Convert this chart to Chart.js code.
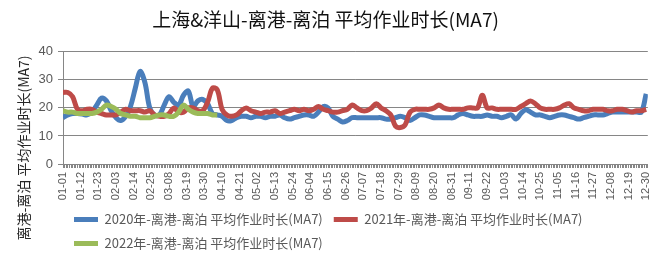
<!DOCTYPE html>
<html><head><meta charset="utf-8">
<script src="https://cdn.jsdelivr.net/npm/chart.js@4"></script>
<style>html,body{margin:0;padding:0;background:#fff}</style>
</head><body>
<canvas id="c" width="665" height="262"></canvas>
<script>
const chartTitle = '上海&洋山-离港-离泊 平均作业时长(MA7)';
const yTitle = '离港-离泊 平均作业时长(MA7)';
const seriesNames = ['2020年-离港-离泊 平均作业时长(MA7)', '2021年-离港-离泊 平均作业时长(MA7)', '2022年-离港-离泊 平均作业时长(MA7)'];
const tickLabels = ['01-01','01-12','01-23','02-03','02-14','02-25','03-08','03-19','03-30','04-10','04-21','05-02','05-13','05-24','06-04','06-15','06-26','07-07','07-18','07-29','08-09','08-20','08-31','09-11','09-22','10-03','10-14','10-25','11-05','11-16','11-27','12-08','12-19','12-30'];
const labelEvery = 11;   // one tick label every 11 days
const sampleStep = 3;    // values read every 3 days
const values2020 = [16.5,17.5,18,18,17.8,17.5,18.5,21,23.5,22.5,
 19,16.5,15.5,17,20.5,27,33,29,20,17.5,
 17.5,21,24,22,21,24.5,26,20.5,22.5,23,
 21.5,18,17.5,17,15.5,15.5,16.5,17,17,16.5,
 17,17,16.5,17,17,17.5,16.5,16,16.5,17,
 17.5,17.5,17,18.5,20.5,20,17,16,15,15.5,
 16.5,16.5,16.5,16.5,16.5,16.5,16.5,16,16,16.5,
 17,16.5,15.5,16.5,17.5,17.5,17,16.5,16.5,16.5,
 16.5,16.5,17.5,18,17.5,17,17,17,17.5,17,
 17,16.5,17,17.5,16,18,19.3,18.5,17.5,17.5,
 17,16.5,17,17.5,17.5,17,16.5,16,16.5,17,
 17.5,17.5,17.5,18,18.5,18.5,18.5,18.5,18.5,18.5,
 18.5,25];
const values2021 = [25.5,25.5,24,19.5,19,19.5,19.5,18.5,18,17.5,
 17.5,17.5,18.5,19.5,19,19,19,18.5,19,17.5,
 17,17,18,20,18.5,18.5,20,20,19,19,
 22,27,26.5,19.5,17.5,17,17.5,19,20,19,
 18.5,18,18.5,18.5,19,18,18.5,19,19.5,19,
 19.5,19,19.5,20.5,19.5,19,18.5,18.5,19,19.5,
 21,20,19,19,20,21.5,20,19,17.5,13.5,
 13,14,18.5,19.5,19.5,19.5,19.5,20,21,20,
 19.5,19.5,19.5,19.5,20,20,20,24.5,20,20,
 19.5,19.5,19.5,19.5,19.5,20.5,21.5,22.5,21.5,20,
 19.5,19.5,19.5,20,21,21.5,20,19.5,19,19,
 19.5,19.5,19.5,19,19,19.5,19.5,19,18.5,19,
 19,19.5];
const values2022 = [19,18.5,18.5,18,18,18,18,18.5,19.5,21,
 20.5,19.5,18,17.5,17,17,16.5,16.5,16.5,17,
 17.5,17.5,17,17,18.5,21,19.5,18.5,18,18,
 18,17.5,17.5];
const yTicks = [0, 10, 20, 30, 40];

const colors = ['#4A7EBB', '#BE4B48', '#9BBB59'];
const toPoints = arr => arr.map((v, i) => ({x: i * sampleStep, y: v}));

const yTitlePlugin = {
  id: 'yTitle',
  afterDraw(chart) {
    const ctx = chart.ctx;
    ctx.save();
    ctx.translate(24, 148);
    ctx.rotate(-Math.PI / 2);
    ctx.font = '14px "Noto Sans CJK SC", sans-serif';
    ctx.fillStyle = '#262626';
    ctx.textAlign = 'center';
    ctx.textBaseline = 'middle';
    ctx.fillText(yTitle, 0, 0);
    ctx.restore();
  }
};

const ds = (name, vals, color) => ({
  label: name, data: toPoints(vals), borderColor: color, backgroundColor: color,
  borderWidth: 5, pointRadius: 0, tension: 0.35, fill: false
});

new Chart(document.getElementById('c'), {
  type: 'line',
  data: {
    datasets: [
      ds(seriesNames[2], values2022, colors[2]),
      ds(seriesNames[1], values2021, colors[1]),
      ds(seriesNames[0], values2020, colors[0])
    ]
  },
  options: {
    responsive: false,
    animation: false,
    devicePixelRatio: 1,
    layout: {padding: {top: 0, right: 14, bottom: 2, left: 0}},
    font: {family: '"Noto Sans CJK SC", "Liberation Sans", sans-serif'},
    plugins: {
      title: {
        display: true, text: chartTitle, color: '#111111',
        font: {size: 19, weight: 'normal', family: '"Noto Sans CJK SC", sans-serif'},
        padding: {top: 8, bottom: 21}
      },
      legend: {
        position: 'bottom', align: 'start', fullSize: false,
        labels: {
          color: '#595959', boxWidth: 24, boxHeight: 5, padding: 11,
          font: {size: 13, family: '"Noto Sans CJK SC", sans-serif'},
          sort: (a, b) => b.datasetIndex - a.datasetIndex,
          generateLabels(chart) {
            const items = Chart.defaults.plugins.legend.labels.generateLabels(chart);
            items.forEach(it => { it.fillStyle = it.strokeStyle; it.lineWidth = 0; });
            return items;
          }
        }
      },
      tooltip: {enabled: false}
    },
    scales: {
      x: {
        type: 'linear', min: 0, max: 364,
        afterFit(s) { s.height = 38; },
        border: {display: true, color: '#868686', width: 1},
        grid: {drawOnChartArea: false, drawTicks: true, tickLength: 4, color: '#868686'},
        ticks: {
          stepSize: 1, autoSkip: false, maxRotation: 90, minRotation: 90, padding: 4,
          color: '#595959', font: {size: 11, family: '"Liberation Sans", sans-serif'},
          callback: v => (v % labelEvery === 0 ? tickLabels[v / labelEvery] : '')
        }
      },
      y: {
        min: yTicks[0], max: yTicks[yTicks.length - 1],
        afterFit(s) { s.width = 63; },
        border: {display: true, color: '#868686', width: 1},
        grid: {color: '#868686', tickLength: 5},
        ticks: {stepSize: 10, padding: 5, color: '#595959', font: {size: 13, family: '"Liberation Sans", sans-serif'}}
      }
    }
  },
  plugins: [yTitlePlugin]
});
</script>
</body></html>
